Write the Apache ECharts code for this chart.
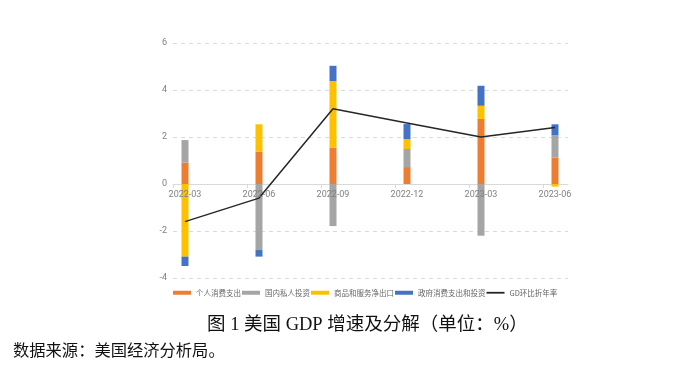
<!DOCTYPE html>
<html>
<head>
<meta charset="utf-8">
<script src="https://cdn.jsdelivr.net/npm/echarts@6/dist/echarts.min.js"></script>
<style>
html,body{margin:0;padding:0;background:#fff;}
#chart{width:688px;height:382px;}
</style>
</head>
<body>
<div id="chart"></div>
<script>
var categories = ['2022-03', '2022-06', '2022-09', '2022-12', '2023-03', '2023-06'];
var pce = [0.91, 1.37, 1.54, 0.72, 2.77, 1.12];
var investment = [0.96, -2.81, -1.79, 0.77, -2.20, 0.95];
var netExports = [-3.09, 1.17, 2.84, 0.42, 0.56, -0.11];
var government = [-0.40, -0.28, 0.65, 0.64, 0.85, 0.47];
var gdpRate = [-1.6, -0.6, 3.2, 2.6, 2.0, 2.4];
var seriesNames = ['个人消费支出', '国内私人投资', '商品和服务净出口', '政府消费支出和投资', 'GD环比折年率'];
var tickPositions = [0, 1, 2, 3, 4, 5];

var chart = echarts.init(document.getElementById('chart'));
var cjk = '"Noto Sans CJK SC", "Noto Sans", sans-serif';
var serif = '"Liberation Serif", "Noto Sans CJK SC", serif';

function barSeries(name, data, color) {
  return {
    name: name, type: 'bar', stack: 'gdp', data: data,
    xAxisIndex: 1, yAxisIndex: 1, barWidth: 7,
    itemStyle: { color: color }
  };
}

chart.setOption({
  animation: false,
  title: [
    { text: '图 1 美国 GDP 增速及分解（单位：%）', left: 207, top: 316, padding: 0,
      textStyle: { fontFamily: serif, fontSize: 18.5, fontWeight: 'normal', color: '#111' } },
    { text: '数据来源：美国经济分析局。', left: 13, top: 344, padding: 0,
      textStyle: { fontFamily: serif, fontSize: 16.3, fontWeight: 'normal', color: '#111' } }
  ],
  legend: {
    left: 168, top: 284, itemWidth: 18, itemHeight: 4, itemGap: 1,
    textStyle: { fontSize: 7.5, color: '#666', fontFamily: cjk },
    data: [
      { name: seriesNames[0], icon: 'rect' },
      { name: seriesNames[1], icon: 'rect' },
      { name: seriesNames[2], icon: 'rect' },
      { name: seriesNames[3], icon: 'rect' },
      { name: seriesNames[4], icon: 'path://M0 0H20V2H0Z' }
    ]
  },
  grid: [
    { left: 173, right: 120, top: 43, bottom: 104 },
    { left: 185, right: 133, top: 43, bottom: 104 }
  ],
  xAxis: [
    { type: 'value', gridIndex: 0, min: 0, max: 5.338,
      axisLine: { show: true, onZero: true, lineStyle: { color: '#d9d9d9', width: 1 } },
      axisTick: { show: true, length: 4, customValues: tickPositions, lineStyle: { color: '#d9d9d9' } },
      axisLabel: { show: false }, splitLine: { show: false } },
    { type: 'category', gridIndex: 1, data: categories, boundaryGap: false,
      position: 'bottom', offset: -94, z: 10,
      axisLine: { show: false, onZero: false }, axisTick: { show: false },
      axisLabel: { fontSize: 9, color: '#808080', margin: 6, fontFamily: 'Roboto, sans-serif' } }
  ],
  yAxis: [
    { type: 'value', gridIndex: 0, min: -4, max: 6, interval: 2,
      axisLine: { show: false }, axisTick: { show: false },
      axisLabel: { fontSize: 9, color: '#808080', margin: 6, fontFamily: 'Roboto, sans-serif' },
      splitLine: { show: true, lineStyle: { color: '#d9d9d9', type: [4, 4], width: 1 } } },
    { type: 'value', gridIndex: 1, min: -4, max: 6, interval: 2,
      axisLine: { show: false }, axisTick: { show: false },
      axisLabel: { show: false }, splitLine: { show: false } }
  ],
  series: [
    barSeries(seriesNames[0], pce, '#ED7D31'),
    barSeries(seriesNames[1], investment, '#A5A5A5'),
    barSeries(seriesNames[2], netExports, '#FFC000'),
    barSeries(seriesNames[3], government, '#4472C4'),
    { name: seriesNames[4], type: 'line', data: gdpRate, xAxisIndex: 1, yAxisIndex: 1,
      symbol: 'none', z: 5,
      lineStyle: { color: '#262626', width: 1.5 }, itemStyle: { color: '#262626' } }
  ]
});
</script>
</body>
</html>
